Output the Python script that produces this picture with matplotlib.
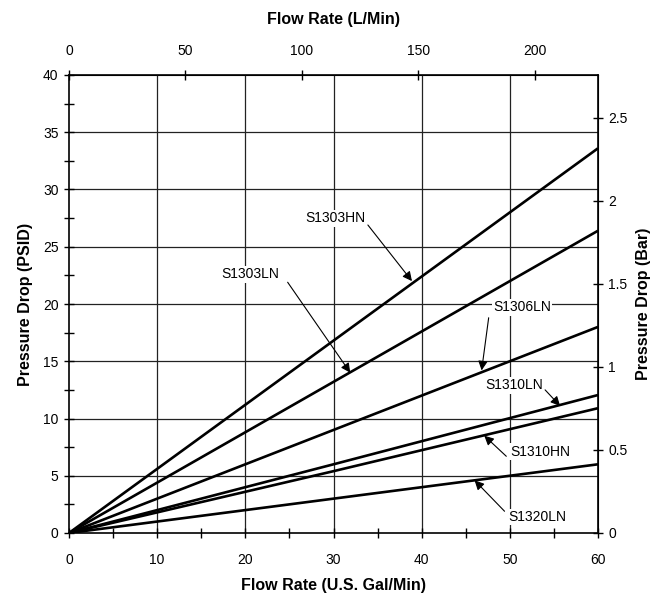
import matplotlib
matplotlib.use('Agg')
import matplotlib.pyplot as plt
from matplotlib.ticker import MultipleLocator

plt.rcParams['font.family'] = ['Liberation Sans', 'DejaVu Sans']

# Pressure drop (PSID) vs flow rate (U.S. gal/min)
flow_gpm = [0, 30, 60]
series_names = ['S1303HN', 'S1303LN', 'S1306LN', 'S1310LN', 'S1310HN', 'S1320LN']
s1303hn = [0, 16.8, 33.6]
s1303ln = [0, 13.2, 26.4]
s1306ln = [0, 9.0, 18.0]
s1310ln = [0, 6.0, 12.05]
s1310hn = [0, 5.4, 10.9]
s1320ln = [0, 3.0, 6.0]
series_values = [s1303hn, s1303ln, s1306ln, s1310ln, s1310hn, s1320ln]

lmin_ticks = [0, 50, 100, 150, 200]
bar_ticks = [0, 0.5, 1, 1.5, 2, 2.5]
bar_labels = ['0', '0.5', '1', '1.5', '2', '2.5']

GAL_TO_L = 3.785
PSI_TO_BAR = 0.0689476

# label placement: (text pos, arrow start, arrow tip) in data coords
LABELS = {
    'S1303HN': ((26.8, 27.5), (33.9, 26.9), (38.9, 22.0)),
    'S1303LN': ((17.3, 22.6), (24.8, 21.9), (31.9, 14.0)),
    'S1306LN': ((48.1, 19.7), (47.6, 18.8), (46.8, 14.2)),
    'S1310LN': ((47.2, 12.9), (54.0, 12.5), (55.7, 11.1)),
    'S1310HN': ((50.0, 7.1), (49.6, 6.7), (47.1, 8.5)),
    'S1320LN': ((49.8, 1.4), (49.4, 1.9), (46.0, 4.6)),
}

fig = plt.figure(figsize=(6.56, 6.04), dpi=100)
ax = fig.add_axes([69 / 656, 71 / 604, 529 / 656, 458 / 604])

for x in range(10, 60, 10):
    ax.axvline(x, color='#222222', lw=0.9, zorder=1)
for y in range(5, 40, 5):
    ax.axhline(y, color='#222222', lw=0.9, zorder=1)

for name, vals in zip(series_names, series_values):
    ax.plot(flow_gpm, vals, color='black', lw=1.9, zorder=3, solid_capstyle='butt')

for name, (txt, start, tip) in LABELS.items():
    ax.text(txt[0], txt[1], name, fontsize=10, ha='left', va='center', zorder=4,
            bbox=dict(facecolor='white', edgecolor='none', pad=1.0))
    ax.annotate('', xy=tip, xytext=start, zorder=4,
                arrowprops=dict(arrowstyle='-|>', color='black', lw=0.8,
                                mutation_scale=14, shrinkA=0, shrinkB=0))

ax.set_xlim(0, 60)
ax.set_ylim(0, 40)
ax.xaxis.set_major_locator(MultipleLocator(10))
ax.xaxis.set_minor_locator(MultipleLocator(5))
ax.yaxis.set_major_locator(MultipleLocator(5))
ax.yaxis.set_minor_locator(MultipleLocator(2.5))
ax.tick_params(which='both', direction='inout', length=7, width=1, labelsize=10,
               top=False, right=False)
ax.tick_params(axis='x', pad=11)
ax.tick_params(axis='y', pad=4)
for s in ax.spines.values():
    s.set_linewidth(1.2)

ax.set_xlabel('Flow Rate (U.S. Gal/Min)', fontsize=11.5, fontweight='bold', labelpad=8)
ax.set_ylabel('Pressure Drop (PSID)', fontsize=11.5, fontweight='bold', labelpad=7)

top = ax.secondary_xaxis('top', functions=(lambda g: g * GAL_TO_L, lambda l: l / GAL_TO_L))
top.set_xticks(lmin_ticks)
top.tick_params(direction='inout', length=7, width=1, labelsize=10, pad=9)
top.set_xlabel('Flow Rate (L/Min)', fontsize=11.5, fontweight='bold', labelpad=14)

right = ax.secondary_yaxis('right', functions=(lambda p: p * PSI_TO_BAR, lambda b: b / PSI_TO_BAR))
right.set_yticks(bar_ticks)
right.set_yticklabels(bar_labels)
right.tick_params(direction='inout', length=7, width=1, labelsize=10, pad=4)
right.set_ylabel('Pressure Drop (Bar)', fontsize=11.5, fontweight='bold', labelpad=6)

fig.savefig('out.png', dpi=100)
